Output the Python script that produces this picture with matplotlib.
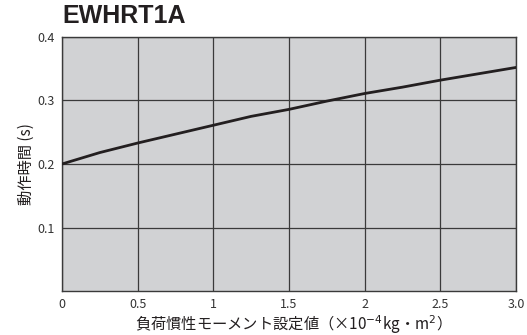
import matplotlib.pyplot as plt
import numpy as np

plt.rcParams['font.family'] = ['Noto Sans CJK JP', 'DejaVu Sans']

# data
inertia = [0, 0.25, 0.5, 0.75, 1.0, 1.25, 1.5, 1.75, 2.0, 2.25, 2.5, 2.75, 3.0]
op_time = [0.200, 0.218, 0.233, 0.247, 0.261, 0.275, 0.286, 0.299, 0.311, 0.321, 0.332, 0.342, 0.352]

xticks = [0, 0.5, 1, 1.5, 2, 2.5, 3.0]
xtick_labels = ["0", "0.5", "1", "1.5", "2", "2.5", "3.0"]
yticks = [0.1, 0.2, 0.3, 0.4]
ytick_labels = ["0.1", "0.2", "0.3", "0.4"]

GRAY = "#d1d2d4"
INK = "#231f20"

fig = plt.figure(figsize=(5.27, 3.35), dpi=100)
ax = fig.add_axes([0.1176, 0.1313, 0.8614, 0.7583])
ax.set_facecolor(GRAY)

ax.plot(inertia, op_time, color=INK, linewidth=2.0, zorder=3)

ax.set_xlim(0, 3.0)
ax.set_ylim(0, 0.4)
ax.set_xticks(xticks)
ax.set_xticklabels(xtick_labels)
ax.set_yticks(yticks)
ax.set_yticklabels(ytick_labels)
ax.tick_params(length=0, labelsize=9, colors="#333333", pad=5)
ax.grid(True, color="#3a3a3a", linewidth=0.9)
for s in ax.spines.values():
    s.set_color("#3a3a3a")
    s.set_linewidth(1.0)

ax.set_xlabel("負荷慣性モーメント設定値（×10$^{-4}$kg・m$^{2}$）", fontsize=11, color=INK, labelpad=2)
ax.set_ylabel("動作時間 (s)", fontsize=11, color=INK, labelpad=2)

fig.text(0.118, 0.915, "EWHRT1A", fontsize=18, fontweight="bold",
         family="Liberation Sans", color=INK, ha="left", va="bottom")

fig.savefig("out.png", dpi=100)
